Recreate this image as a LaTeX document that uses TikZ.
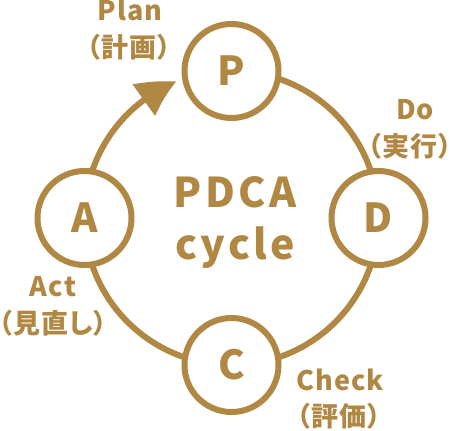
\documentclass[tikz,border=0pt]{standalone}
\usepackage{fontspec}
\setmainfont{Noto Sans CJK JP}[RawFeature=+palt]
\usetikzlibrary{arrows.meta,bending,backgrounds}

\begin{document}
\begin{tikzpicture}[x=1pt, y=1pt,
    phasecircle/.style={circle, draw=gold, fill=white, line width=6pt,
        minimum size=94pt, inner sep=0pt, text=gold,
        font=\fontsize{40}{40}\selectfont\bfseries},
    cyclering/.style={draw=gold, line width=6pt},
    phasetext/.style={text=gold, anchor=base, inner sep=0pt,
        font=\fontsize{27}{37}\selectfont\bfseries\addfontfeature{LetterSpace=4}},
    titletext/.style={text=gold, anchor=base, inner sep=0pt,
        font=\fontsize{41}{52}\selectfont\bfseries\addfontfeature{LetterSpace=8}}]
    % Define colours
    \definecolor{gold}{HTML}{B08843}

    % Define cycle radius
    \def\R{147}

    % Fix picture size
    \useasboundingbox (0,0) rectangle (454,430);

    % Centre of the cycle
    \coordinate (O) at (231.5,212);

    % Draw phase circles
    \node[phasecircle] (P) at ([shift={(90:\R)}]O) {P};
    \node[phasecircle] (D) at ([shift={(0:\R)}]O) {D};
    \node[phasecircle] (C) at ([shift={(-90:\R)}]O) {C};
    \node[phasecircle] (A) at ([shift={(180:\R)}]O) {A};

    % Draw cycle ring with arrow into P
    \begin{scope}[on background layer]
        \draw[cyclering, -{Triangle[length=38pt, width=37pt, bend]}]
            (P.center) arc[start angle=90, end angle=-248, radius=\R];
    \end{scope}

    % Title in the middle
    \node[titletext] (title1) at (235,222) {PDCA};
    \node[titletext] (title2) at (235,170) {cycle};

    % Phase labels
    \node[phasetext] (plan1) at (130,409) {Plan};
    \node[phasetext] (plan2) at (129,372) {（計画）};
    \node[phasetext] (do1) at (415,310) {Do};
    \node[phasetext] (do2) at (410,273) {（実行）};
    \node[phasetext] (check1) at (340,39) {Check};
    \node[phasetext] (check2) at (339,4) {（評価）};
    \node[phasetext] (act1) at (53,133) {Act};
    \node[phasetext] (act2) at (53,96) {（見直し）};

\end{tikzpicture}
\end{document}
